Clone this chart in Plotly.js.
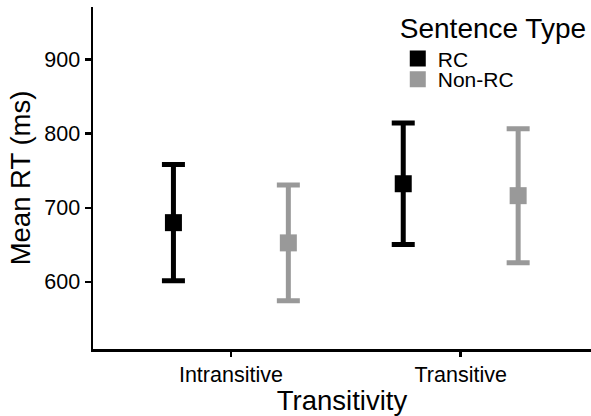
<!DOCTYPE html>
<html>
<head>
<meta charset="utf-8">
<script src="https://cdn.plot.ly/plotly-3.0.1.min.js"></script>
<style>html,body{margin:0;padding:0;background:#fff;}#chart{width:591px;height:416px;}</style>
</head>
<body>
<div id="chart"></div>
<script>
// Data
var categories = ['Intransitive', 'Transitive'];
var seriesNames = ['RC', 'Non-RC'];
var rcMean = [680, 732.5];
var rcErr = [78.5, 82];
var nonRcMean = [652.7, 716.4];
var nonRcErr = [78, 90.4];
var yTicks = [600, 700, 800, 900];

var dodge = 0.25;
var catPos = categories.map(function (c, i) { return i + 1; });

function makeTrace(name, means, errs, offset, color, legendId) {
  return {
    type: 'scatter',
    mode: 'markers',
    name: name,
    legend: legendId,
    x: catPos.map(function (p) { return p + offset; }),
    y: means,
    marker: { symbol: 'square', size: 17, color: color },
    error_y: { type: 'data', array: errs, visible: true, color: color, thickness: 5, width: 11.5 },
    hoverinfo: 'x+y'
  };
}

var traces = [
  makeTrace(seriesNames[0], rcMean, rcErr, -dodge, '#000000', 'legend'),
  makeTrace(seriesNames[1], nonRcMean, nonRcErr, dodge, '#999999', 'legend2')
];

var font = 'Arial, "Liberation Sans", sans-serif';
var legendBase = {
  x: 0.612,
  xanchor: 'left',
  bgcolor: 'rgba(0,0,0,0)',
  font: { family: font, size: 21, color: '#000000' },
  tracegroupgap: 0
};
var legend1 = Object.assign({}, legendBase, {
  y: 1.015, yanchor: 'top',
  title: { text: 'Sentence Type', font: { family: font, size: 28, color: '#000000' } }
});
var legend2 = Object.assign({}, legendBase, { y: 0.788, yanchor: 'middle' });

var layout = {
  width: 591,
  height: 416,
  margin: { l: 93, r: 0, t: 7, b: 67, autoexpand: false },
  paper_bgcolor: '#ffffff',
  plot_bgcolor: '#ffffff',
  font: { family: font, color: '#000000' },
  showlegend: true,
  xaxis: {
    range: [0.4, 2.567],
    tickvals: catPos,
    ticktext: categories,
    showgrid: false,
    zeroline: false,
    showline: true,
    linecolor: '#000000',
    linewidth: 2.5,
    ticks: 'outside',
    ticklen: 5,
    tickwidth: 2.5,
    tickcolor: '#000000',
    tickfont: { family: font, size: 21.5, color: '#000000' },
    title: { text: 'Transitivity', font: { family: font, size: 27.5, color: '#000000' }, standoff: 6 }
  },
  yaxis: {
    range: [509.5, 971],
    tickvals: yTicks,
    ticktext: yTicks.map(String),
    showgrid: false,
    zeroline: false,
    showline: true,
    linecolor: '#000000',
    linewidth: 2.5,
    ticks: 'outside',
    ticklen: 6,
    tickwidth: 2.5,
    tickcolor: '#000000',
    tickfont: { family: font, size: 21.5, color: '#000000' },
    title: { text: 'Mean RT (ms)', font: { family: font, size: 27.5, color: '#000000' }, standoff: 6 }
  },
  legend: legend1,
  legend2: legend2
};

Plotly.newPlot('chart', traces, layout, { displayModeBar: false, staticPlot: true });
</script>
</body>
</html>
